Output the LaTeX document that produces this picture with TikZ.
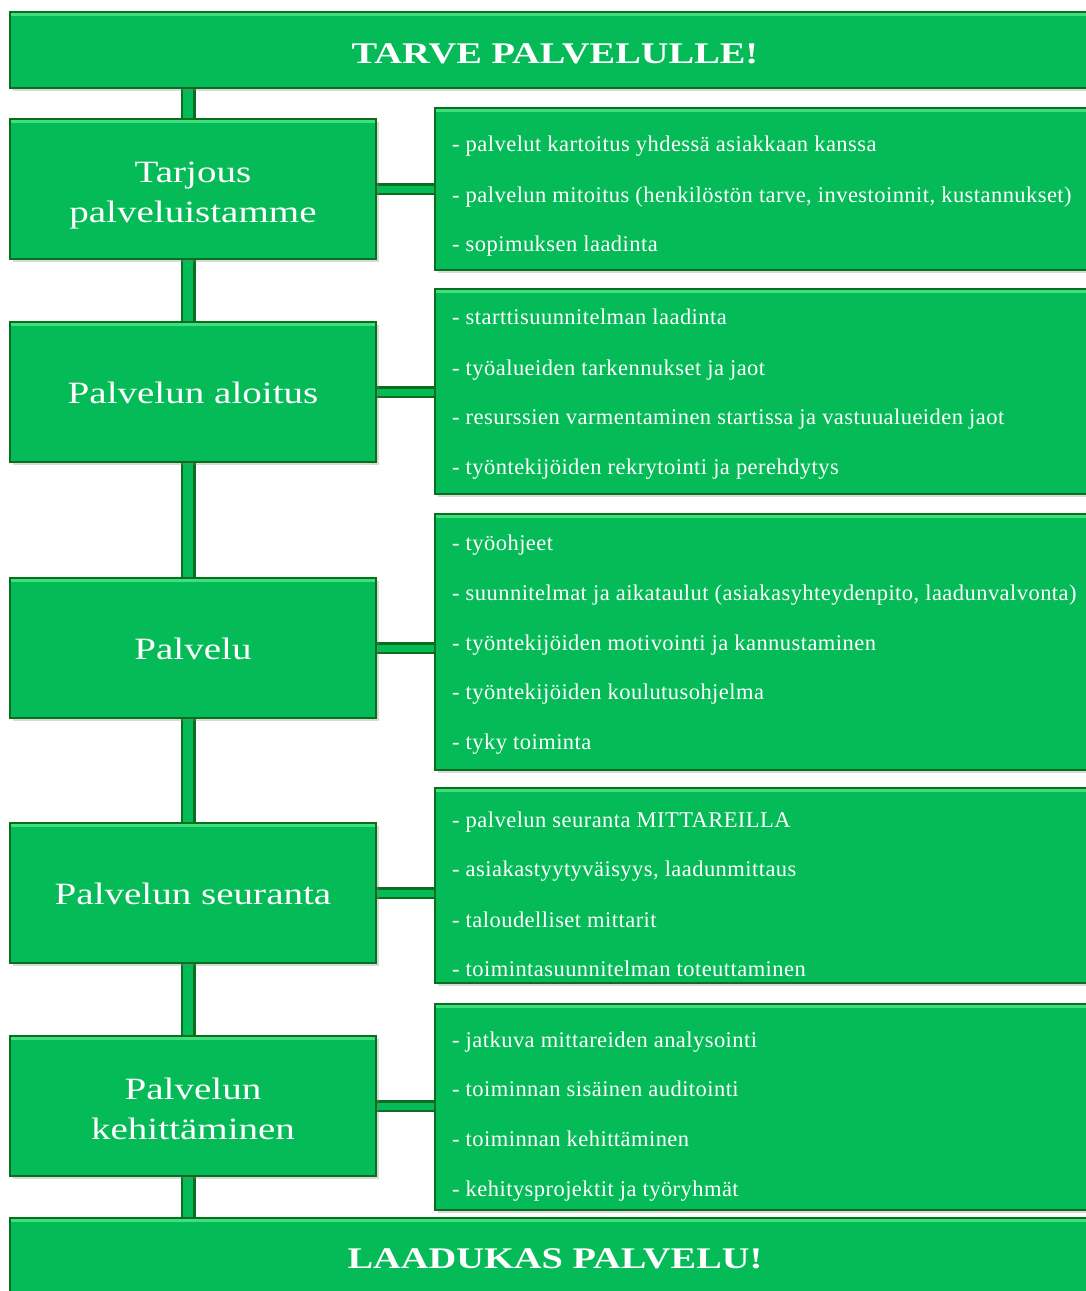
\documentclass[tikz,border=0pt]{standalone}
\usepackage{fontspec}
\setmainfont{Liberation Serif}
\newfontfamily\itemfont[LetterSpace=2]{Liberation Serif}
\usetikzlibrary{shadows,backgrounds}
\definecolor{gfill}{HTML}{05BB57}
\definecolor{gdark}{HTML}{0A6E1E}
\definecolor{glight}{HTML}{3EE07E}
\newcommand{\wideL}[1]{\scalebox{1.26}[1]{#1}}
\newcommand{\wideT}[1]{\scalebox{1.28}[1]{#1}}
\newcommand{\placetxt}[2]{\smash{\raisebox{#1}{#2}}}
\tikzset{
  box/.style={draw=gdark, line width=2.2pt, fill=gfill, inner sep=0pt,
    drop shadow={shadow xshift=2.5pt, shadow yshift=-2.5pt, opacity=0.3},
    path picture={\draw[glight, line width=3pt]
      ([yshift=-2.6pt]path picture bounding box.north west) --
      ([yshift=-2.6pt]path picture bounding box.north east);}},
  leftbox/.style={box, minimum width=366pt, minimum height=140pt, text=white,
    align=center, font=\fontsize{31}{40}\selectfont},
  rightbox/.style={box, anchor=west, minimum width=670pt},
  item/.style={anchor=base west, text=white, inner sep=0pt,
    font=\itemfont\fontsize{22.5}{24}\selectfont},
  titlebox/.style={box, minimum width=1090pt, text=white,
    font=\fontsize{30}{34}\selectfont\bfseries},
  vconn/.style={draw=gdark, line width=2.5pt, double=gfill, double distance=10pt},
  hconn/.style={draw=gdark, line width=2.5pt, double=gfill, double distance=7pt},
}
\begin{document}
\begin{tikzpicture}[x=1pt,y=-1pt]
\useasboundingbox (0,0) rectangle (1086,1291);
\coordinate (bar) at (188,0);

\node[titlebox, minimum height=76pt] (top) at (555,50) {\placetxt{-13pt}{\wideT{TARVE PALVELULLE!}}};
\node[titlebox, minimum height=80pt] (bot) at (555,1258) {\placetxt{-10pt}{\wideT{LAADUKAS PALVELU!}}};

\node[leftbox] (l1) at (193,189) {\placetxt{7pt}{\begin{tabular}[t]{@{}c@{}}\wideL{Tarjous}\\\wideL{palveluistamme}\end{tabular}}};
\node[leftbox] (l2) at (193,392) {\placetxt{-11pt}{\wideL{Palvelun aloitus}}};
\node[leftbox] (l3) at (193,648) {\placetxt{-11pt}{\wideL{Palvelu}}};
\node[leftbox] (l4) at (193,893) {\placetxt{-11pt}{\wideL{Palvelun seuranta}}};
\node[leftbox] (l5) at (193,1106) {\placetxt{7pt}{\begin{tabular}[t]{@{}c@{}}\wideL{Palvelun}\\\wideL{kehittäminen}\end{tabular}}};

\node[rightbox, minimum height=162pt] (r1) at (434,189) {};
\node[rightbox, minimum height=205pt] (r2) at (434,391.5) {};
\node[rightbox, minimum height=256pt] (r3) at (434,642) {};
\node[rightbox, minimum height=195pt] (r4) at (434,885.5) {};
\node[rightbox, minimum height=206pt] (r5) at (434,1107) {};

\foreach \y/\t [count=\i] in {
  151/{- palvelut kartoitus yhdessä asiakkaan kanssa},
  202/{- palvelun mitoitus (henkilöstön tarve, investoinnit, kustannukset)},
  251/{- sopimuksen laadinta},
  324/{- starttisuunnitelman laadinta},
  375/{- työalueiden tarkennukset ja jaot},
  424/{- resurssien varmentaminen startissa ja vastuualueiden jaot},
  474/{- työntekijöiden rekrytointi ja perehdytys},
  550/{- työohjeet},
  600/{- suunnitelmat ja aikataulut (asiakasyhteydenpito, laadunvalvonta)},
  650/{- työntekijöiden motivointi ja kannustaminen},
  699/{- työntekijöiden koulutusohjelma},
  749/{- tyky toiminta},
  827/{- palvelun seuranta MITTAREILLA},
  876/{- asiakastyytyväisyys, laadunmittaus},
  927/{- taloudelliset mittarit},
  976/{- toimintasuunnitelman toteuttaminen},
  1047/{- jatkuva mittareiden analysointi},
  1096/{- toiminnan sisäinen auditointi},
  1146/{- toiminnan kehittäminen},
  1196/{- kehitysprojektit ja työryhmät}}
  \node[item] (t\i) at (452,\y) {\t};

\begin{pgfonlayer}{background}
  \draw[vconn] (top.south -| bar) -- (bot.north -| bar);
  \foreach \k in {1,...,5}
    \draw[hconn] (l\k.east) -- (r\k.west |- l\k.east);
\end{pgfonlayer}
\end{tikzpicture}
\end{document}
